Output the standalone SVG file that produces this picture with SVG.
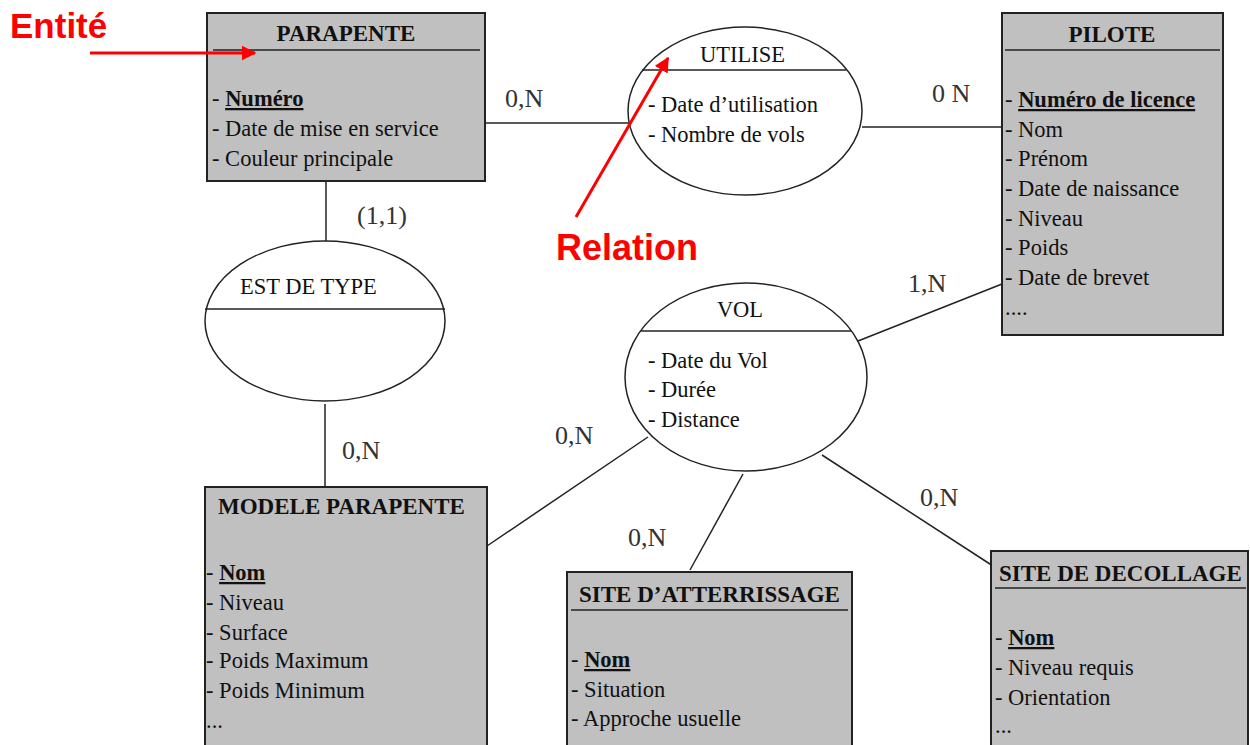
<svg xmlns="http://www.w3.org/2000/svg" width="1250" height="745" viewBox="0 0 1250 745">
<defs>
<marker id="red" viewBox="0 0 10 10" refX="9" refY="5" markerWidth="5" markerHeight="5" orient="auto" markerUnits="strokeWidth"><path d="M0,0 L10,5 L0,10 z" fill="#ff0000"/></marker>
<style>
.ent{fill:#c0c0c0;stroke:#222;stroke-width:2}
.rel{fill:#fff;stroke:#222;stroke-width:1.5}
.sep{stroke:#222;stroke-width:1.5}
.t{font-family:"Liberation Serif",serif;font-size:22.5px;fill:#111}
.b{font-weight:bold;font-size:23px}
.u{font-weight:bold;text-decoration:underline}
.lbl{font-family:"Liberation Serif",serif;font-size:26px;fill:#333}
.c line{stroke:#222;stroke-width:1.5}
.red{font-family:"Liberation Sans",Arial,sans-serif;font-weight:bold;fill:#ff0000}
</style>
</defs>
<rect width="1250" height="745" fill="#fff"/>

<g class="c" id="connectors">
<line x1="485" y1="123" x2="629" y2="123"/>
<line x1="862" y1="127" x2="1002" y2="127"/>
<line x1="326" y1="181" x2="326" y2="242"/>
<line x1="325" y1="404" x2="325" y2="487"/>
<line x1="858" y1="341" x2="1002" y2="284"/>
<line x1="487" y1="546" x2="648" y2="437"/>
<line x1="743" y1="474" x2="690" y2="570"/>
<line x1="822" y1="455" x2="993" y2="566"/>
</g>
<g id="labels">
<text class="lbl" x="505" y="107">0,N</text>
<text class="lbl" x="932" y="102">0 N</text>
<text class="lbl" x="357" y="224">(1,1)</text>
<text class="lbl" x="342" y="459">0,N</text>
<text class="lbl" x="908" y="292">1,N</text>
<text class="lbl" x="555" y="444">0,N</text>
<text class="lbl" x="628" y="546">0,N</text>
<text class="lbl" x="920" y="506">0,N</text>
</g>

<g id="parapente">
<rect class="ent" x="207" y="13" width="278" height="168"/>
<line class="sep" x1="213" y1="50" x2="480" y2="50"/>
<text class="t b" x="346" y="41" text-anchor="middle">PARAPENTE</text>
<text class="t" x="212" y="106">- <tspan class="u">Numéro</tspan></text>
<text class="t" x="212" y="136">- Date de mise en service</text>
<text class="t" x="212" y="166">- Couleur principale</text>
</g>

<g id="utilise">
<ellipse class="rel" cx="745" cy="111" rx="117" ry="84"/>
<line class="sep" x1="642" y1="70" x2="846" y2="70"/>
<text class="t" x="700" y="62">UTILISE</text>
<text class="t" x="648" y="112">- Date d’utilisation</text>
<text class="t" x="648" y="142">- Nombre de vols</text>
</g>

<g id="pilote">
<rect class="ent" x="1002" y="13" width="221" height="322"/>
<line class="sep" x1="1005" y1="50" x2="1220" y2="50"/>
<text class="t b" x="1112" y="42" text-anchor="middle">PILOTE</text>
<text class="t" x="1005" y="107">- <tspan class="u">Numéro de licence</tspan></text>
<text class="t" x="1005" y="137">- Nom</text>
<text class="t" x="1005" y="166">- Prénom</text>
<text class="t" x="1005" y="196">- Date de naissance</text>
<text class="t" x="1005" y="226">- Niveau</text>
<text class="t" x="1005" y="255">- Poids</text>
<text class="t" x="1005" y="285">- Date de brevet</text>
<text class="t" x="1005" y="315">....</text>
</g>

<g id="est-de-type">
<ellipse class="rel" cx="325" cy="321" rx="120" ry="80"/>
<line class="sep" x1="205" y1="309" x2="445" y2="309"/>
<text class="t" x="240" y="294">EST DE TYPE</text>
</g>

<g id="vol">
<ellipse class="rel" cx="746" cy="377" rx="121" ry="94"/>
<line class="sep" x1="641" y1="331" x2="851" y2="331"/>
<text class="t" x="740" y="317" text-anchor="middle">VOL</text>
<text class="t" x="648" y="368">- Date du Vol</text>
<text class="t" x="648" y="397">- Durée</text>
<text class="t" x="648" y="427">- Distance</text>
</g>

<g id="modele-parapente">
<rect class="ent" x="205" y="487" width="282" height="270"/>
<text class="t b" x="218" y="514">MODELE PARAPENTE</text>
<text class="t" x="206" y="580">- <tspan class="u">Nom</tspan></text>
<text class="t" x="206" y="610">- Niveau</text>
<text class="t" x="206" y="640">- Surface</text>
<text class="t" x="206" y="668">- Poids Maximum</text>
<text class="t" x="206" y="698">- Poids Minimum</text>
<text class="t" x="206" y="728">...</text>
</g>

<g id="site-atterrissage">
<rect class="ent" x="567" y="572" width="285" height="190"/>
<line class="sep" x1="571" y1="610" x2="848" y2="610"/>
<text class="t b" x="579" y="602">SITE D’ATTERRISSAGE</text>
<text class="t" x="571" y="667">- <tspan class="u">Nom</tspan></text>
<text class="t" x="571" y="697">- Situation</text>
<text class="t" x="571" y="726">- Approche usuelle</text>
</g>

<g id="site-decollage">
<rect class="ent" x="991" y="551" width="257" height="210"/>
<line class="sep" x1="995" y1="588" x2="1246" y2="588"/>
<text class="t b" x="999" y="581">SITE DE DECOLLAGE</text>
<text class="t" x="995" y="645">- <tspan class="u">Nom</tspan></text>
<text class="t" x="995" y="675">- Niveau requis</text>
<text class="t" x="995" y="705">- Orientation</text>
<text class="t" x="995" y="733">...</text>
</g>

<g id="annotations">
<text class="red" x="10" y="38" font-size="35">Entité</text>
<line x1="90" y1="53" x2="255" y2="53" stroke="#ff0000" stroke-width="3" marker-end="url(#red)"/>
<text class="red" x="556" y="260" font-size="36">Relation</text>
<line x1="576" y1="217" x2="668" y2="58" stroke="#ff0000" stroke-width="3" marker-end="url(#red)"/>
</g>
</svg>
